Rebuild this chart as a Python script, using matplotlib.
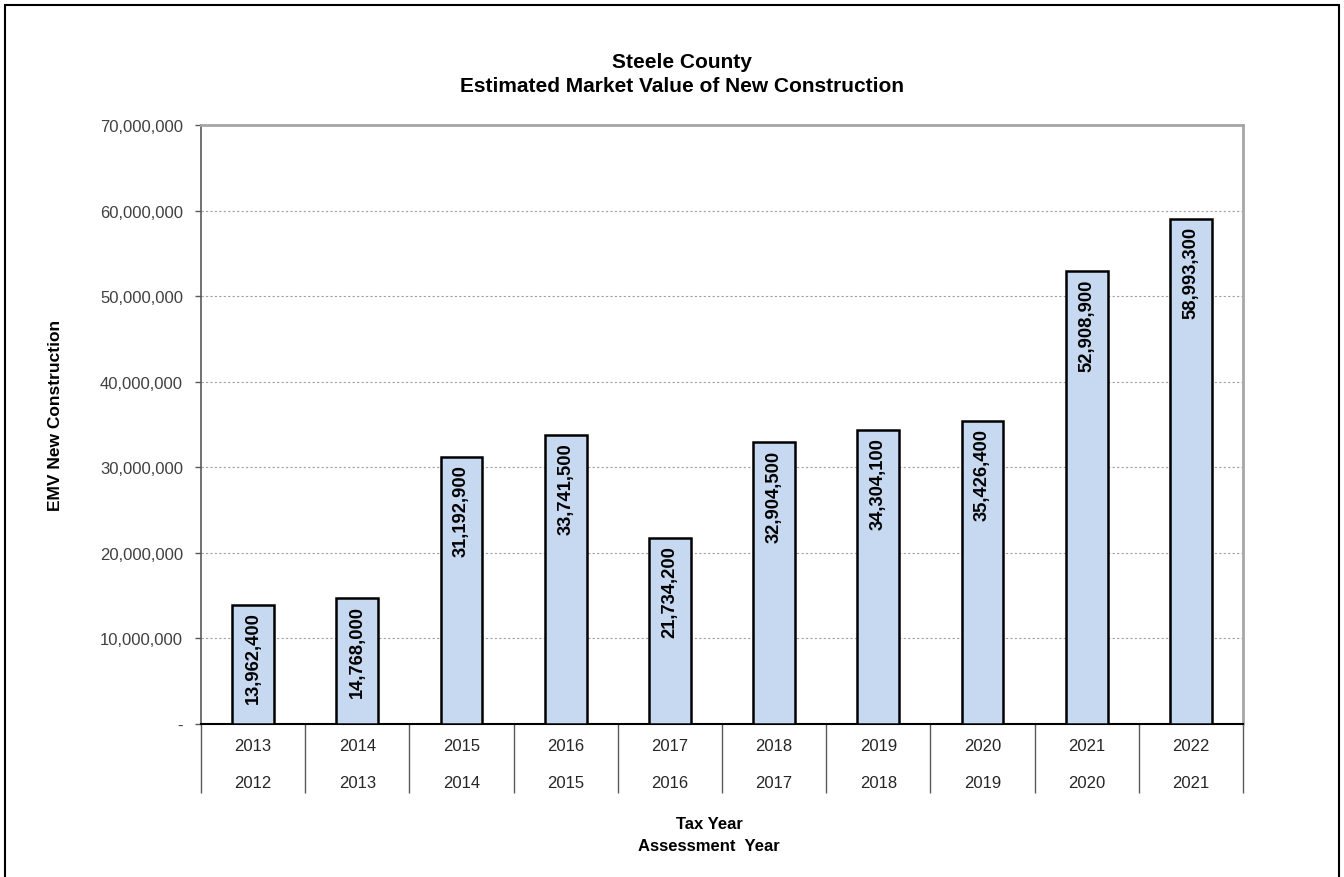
"""Steele County EMV of new construction bar chart."""

import matplotlib
matplotlib.use("Agg")
import matplotlib.pyplot as plt
from matplotlib.patches import Rectangle
from matplotlib.ticker import FuncFormatter, MultipleLocator
from matplotlib.transforms import blended_transform_factory

plt.rcParams["font.family"] = ["Liberation Sans", "DejaVu Sans"]

tax_years = ["2013", "2014", "2015", "2016", "2017", "2018", "2019", "2020", "2021", "2022"]
assessment_years = ["2012", "2013", "2014", "2015", "2016", "2017", "2018", "2019", "2020", "2021"]
emv_new_construction = [13962400, 14768000, 31192900, 33741500, 21734200,
                        32904500, 34304100, 35426400, 52908900, 58993300]

W, H = 1344, 878
fig = plt.figure(figsize=(W / 100, H / 100), dpi=100)
ax = fig.add_axes([201 / W, 1 - 725 / H, 1042 / W, 599 / H])

x = list(range(len(tax_years)))
ax.bar(x, emv_new_construction, width=0.4, color="#c6d9f1",
       edgecolor="black", linewidth=1.8, zorder=3)

for xi, v in zip(x, emv_new_construction):
    ax.annotate(f"{v:,.0f}", (xi, v), xytext=(0, -5), textcoords="offset points",
                rotation=90, ha="center", va="top", fontsize=13.2,
                fontweight="bold", color="black", zorder=4)

ax.set_xlim(-0.5, len(x) - 0.5)
ax.set_ylim(0, 70_000_000)
ax.yaxis.set_major_locator(MultipleLocator(10_000_000))
ax.yaxis.set_major_formatter(
    FuncFormatter(lambda v, _: "-" if v == 0 else f"{v:,.0f}"))
ax.tick_params(axis="y", labelsize=12, labelcolor="#404040", color="#595959",
               length=4, width=1, pad=9)
ax.grid(axis="y", color="#a0a0a0", linestyle=(0, (2, 2)), linewidth=0.8, zorder=0)

# category axis: separators between groups, two label rows
ax.set_xticks([])
ax.set_xticks([i - 0.5 for i in range(len(x) + 1)], minor=True)
ax.tick_params(axis="x", which="minor", direction="out", length=50,
               width=1, color="#595959")
trans = blended_transform_factory(ax.transData, ax.transAxes)
for xi, ty, ay in zip(x, tax_years, assessment_years):
    ax.text(xi, -22 / 599, ty, transform=trans, ha="center", va="center",
            fontsize=12, color="#262626")
    ax.text(xi, -59 / 599, ay, transform=trans, ha="center", va="center",
            fontsize=12, color="#262626")

ax.spines["left"].set_color("#595959")
ax.spines["left"].set_linewidth(1.2)
ax.spines["bottom"].set_color("black")
ax.spines["bottom"].set_linewidth(1.5)
for s in ("top", "right"):
    ax.spines[s].set_color("#a6a6a6")
    ax.spines[s].set_linewidth(2)

fig.text(682 / W, 1 - 62 / H, "Steele County", ha="center", va="center",
         fontsize=15, fontweight="bold")
fig.text(682 / W, 1 - 86 / H, "Estimated Market Value of New Construction",
         ha="center", va="center", fontsize=15, fontweight="bold")
fig.text(56 / W, 1 - 415 / H, "EMV New Construction", rotation=90,
         ha="center", va="center", fontsize=12.5, fontweight="bold")
fig.text(709 / W, 1 - 825 / H, "Tax Year", ha="center", va="center",
         fontsize=12, fontweight="bold")
fig.text(709 / W, 1 - 847 / H, "Assessment  Year", ha="center", va="center",
         fontsize=12, fontweight="bold")

fig.patches.append(Rectangle((5 / W, -0.05), 1334 / W, 1.05 - 6 / H,
                             transform=fig.transFigure, fill=False,
                             edgecolor="black", linewidth=1.5))

fig.savefig("out.png", dpi=100)
